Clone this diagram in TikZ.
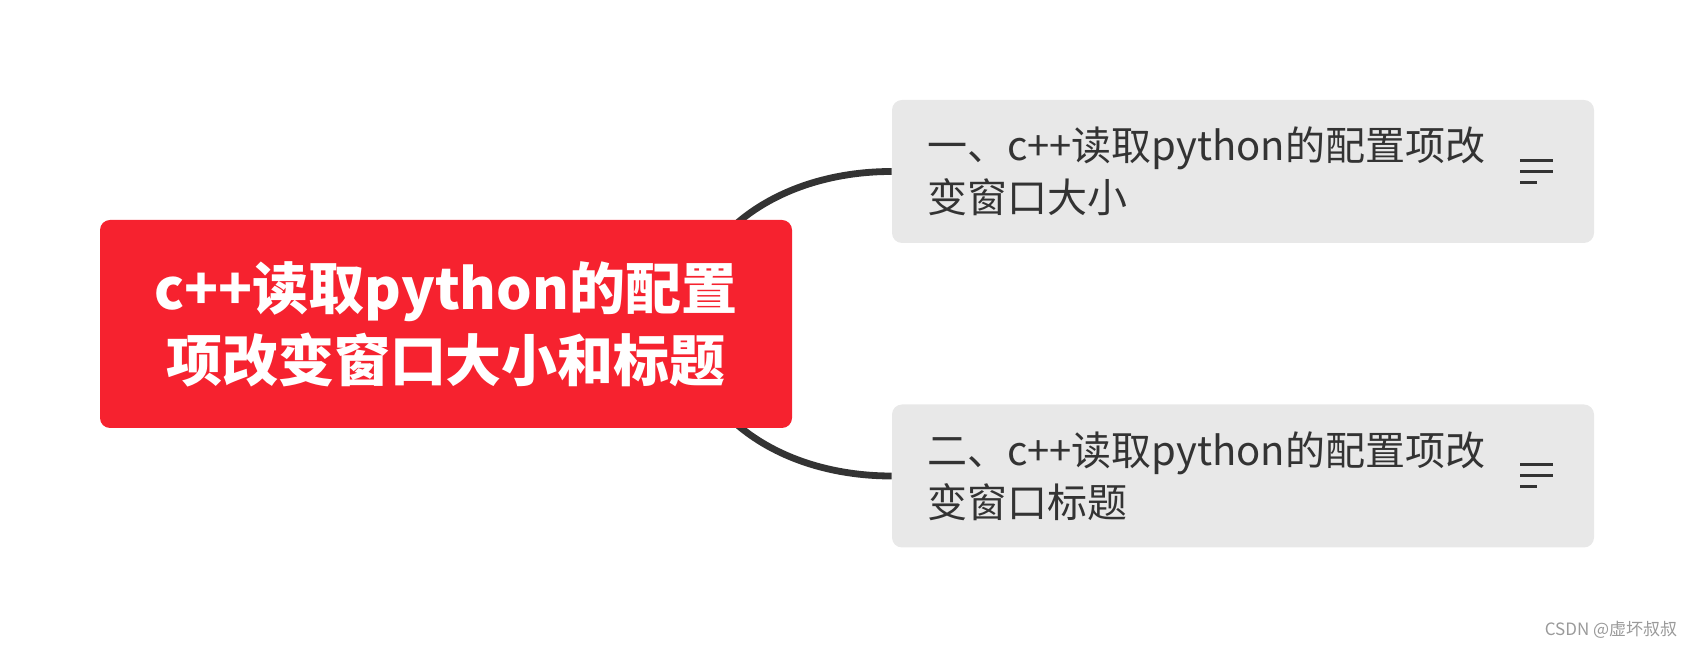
\documentclass[tikz,border=0pt]{standalone}
\usepackage{fontspec}
\setmainfont{Liberation Sans}
\newfontfamily\cjk{Noto Sans CJK SC}
\usetikzlibrary{positioning,calc,backgrounds}

\definecolor{rootred}{HTML}{F6222F}
\definecolor{topicgray}{HTML}{E8E8E8}
\definecolor{inkgray}{HTML}{333333}
\definecolor{markgray}{HTML}{9A9A9A}

\tikzset{
  root/.style={rectangle, rounded corners=5pt, fill=rootred, text=white,
    font=\cjk\bfseries\fontsize{28}{36}\selectfont, align=center,
    minimum width=346pt, minimum height=104pt},
  topic/.style={rectangle, rounded corners=5pt, fill=topicgray, text=inkgray,
    font=\cjk\fontsize{20}{26}\selectfont, align=left, text width=316pt,
    inner xsep=17.5pt, minimum height=71.5pt},
  branch/.style={line width=3.4pt, draw=inkgray},
  notes/.style={line width=1.5pt, draw=inkgray},
}

\begin{document}
\begin{tikzpicture}[x=0.5pt, y=0.5pt]
\useasboundingbox (0,0) rectangle (1694,648);

\node (main) at (446, 324) [root] {c++读取python的配置\\项改变窗口大小和标题};
\coordinate (hub) at (680, 324);

\node (t1) at (1243, 476.5) [topic] {一、c++读取python的配置项改\\变窗口大小};
\node (t2) at (1243, 172) [topic] {二、c++读取python的配置项改\\变窗口标题};

\node (mark) at (1611, 18) [text=markgray, font=\cjk\fontsize{8.5}{10}\selectfont] {CSDN @虚坏叔叔};

\begin{pgfonlayer}{background}
\draw[branch] (hub) to [out = 80, in = 180] (t1.west);
\draw[branch] (hub) to [out = -80, in = 180] (t2.west);
\end{pgfonlayer}

% note icons
\foreach \t in {t1, t2} {
  \draw[notes] ($(\t.east)+(-74,11)$) -- ($(\t.east)+(-41,11)$);
  \draw[notes] ($(\t.east)+(-74,0)$) -- ($(\t.east)+(-41,0)$);
  \draw[notes] ($(\t.east)+(-74,-11)$) -- ($(\t.east)+(-57,-11)$);
}
\end{tikzpicture}
\end{document}
